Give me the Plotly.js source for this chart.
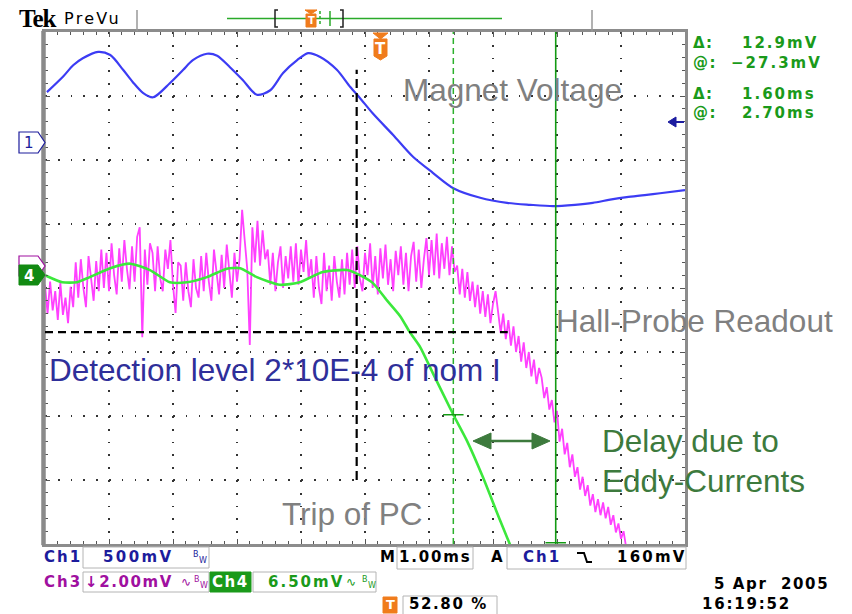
<!DOCTYPE html>
<html><head><meta charset="utf-8">
<script src="https://cdn.plot.ly/plotly-3.0.1.min.js"></script>
<style>html,body{margin:0;padding:0;background:#fff;} #chart{width:852px;height:614px;}</style>
</head><body><div id="chart"></div>
<script>
// ===== data: time in ms relative to trigger, amplitude in screen divisions =====
const CH1_T = [-5.25,-5.00,-4.84,-4.69,-4.45,-4.26,-4.06,-3.91,-3.75,-3.59,-3.33,-3.12,-2.97,-2.75,-2.59,-2.39,-2.19,-1.97,-1.76,-1.56,-1.34,-1.17,-0.98,-0.72,-0.51,-0.36,-0.16,0.16,0.47,0.78,1.10,1.52,1.94,2.30,2.66,3.00,3.28,3.55,3.81,4.09,4.33,4.72];
const CH1_V = [3.06,3.30,3.48,3.59,3.69,3.64,3.41,3.22,3.05,2.98,3.20,3.41,3.56,3.66,3.63,3.45,3.25,3.02,3.09,3.36,3.56,3.67,3.61,3.41,3.14,2.97,2.73,2.39,2.05,1.80,1.56,1.41,1.33,1.30,1.28,1.30,1.33,1.38,1.42,1.45,1.48,1.53];

const CH4_T = [-5.28,-5.01,-4.78,-4.58,-4.26,-3.95,-3.64,-3.33,-3.06,-2.75,-2.44,-2.23,-1.97,-1.61,-1.30,-0.94,-0.56,-0.36,-0.16,0.06,0.27,0.42,0.58,0.78,1.10,1.31,1.56,1.83,1.99];
const CH4_V = [0.20,0.09,0.09,0.17,0.31,0.38,0.28,0.09,0.09,0.17,0.30,0.31,0.17,0.05,0.09,0.25,0.28,0.20,0.08,-0.19,-0.44,-0.69,-0.92,-1.33,-1.98,-2.38,-2.95,-3.63,-4.02];

const CH3_T0 = -5.28, CH3_DT = 0.04;   // sample grid of the Hall-probe trace
const CH3_V = [
 0.05,-0.40,0.10,-0.35,-0.05,-0.50,0.08,-0.42,-0.15,-0.55,0.02,-0.30,
 0.40,-0.15,0.45,0.00,-0.30,0.50,0.15,-0.20,0.42,-0.05,
 0.60,0.00,0.55,-0.05,0.70,0.20,-0.10,0.62,0.10,0.75,0.30,-0.02,
 0.65,0.10,0.80,0.95,-0.77,0.60,0.05,0.70,
 0.55,-0.05,0.65,0.15,-0.05,0.60,0.30,0.75,0.05,-0.39,0.40,
 0.35,-0.20,0.40,-0.05,-0.30,0.45,0.00,-0.15,
 0.50,-0.05,0.55,0.10,-0.20,0.60,0.20,-0.10,0.52,0.00,0.68,0.25,-0.15,0.55,0.10,0.45,
 1.22,0.75,0.30,-0.89,0.95,0.40,1.05,0.35,0.90,0.45,
 0.60,0.05,0.55,-0.05,0.40,0.65,0.00,0.50,0.15,
 0.65,0.10,0.70,0.05,0.60,0.25,0.75,0.15,
 0.45,-0.15,0.50,0.00,-0.25,0.55,-0.05,0.35,-0.20,0.50,0.10,-0.15,0.45,-0.10,0.55,0.05,
 0.60,0.00,0.65,0.15,-0.05,0.55,0.20,0.70,0.00,0.50,-0.10,0.62,0.15,0.68,0.05,0.45,-0.05,0.58,0.20,
 0.65,0.05,0.55,-0.05,0.50,0.72,0.10,0.60,0.00,0.45,0.78,0.20,
 0.75,0.20,0.85,0.15,0.70,0.30,0.80,0.20,0.65,0.25,
 0.35,-0.10,0.30,-0.15,0.25,-0.20,0.10,-0.30,0.05,-0.40,-0.05,-0.45,-0.10,-0.55,-0.25,-0.05,-0.35,-0.70,-0.40,-0.80,-0.50,-0.90,-0.60,-1.00,-0.75,-1.15,-0.85,-1.25,-1.00,-1.38,-1.12,-1.50,-1.25,
 -1.40,-1.72,-1.55,-1.90,-1.75,-2.10,-1.92,-2.40,-2.20,-2.60,-2.42,-2.80,-2.60,-2.95,-2.80,-3.15,-2.95,-3.25,-3.08,-3.40,-3.22,-3.50,-3.30,-3.55,-3.35,-3.60,-3.42,-3.70,-3.55,-3.82,-3.68,-3.92,-3.80,-4.05,-4.20
];
const CH3_T = CH3_V.map((_, i) => +(CH3_T0 + i * CH3_DT).toFixed(3));

const CURSOR_T = [1.10, 2.70];          // time cursors (ms)
const CURSOR_LEVEL = [-1.98, -3.98];     // where the cursors read the waveform (div)
const TRIP_T = -0.41;                    // trip of PC marker (ms)
const TRIP_SPAN = [-3.0, 3.41];
const DETECT_LEVEL = -0.69;              // detection level (div)
const DETECT_END_T = 1.95;
const X_RANGE = [-5.28, 4.72];
const Y_RANGE = [-4, 4];

// ===== helpers for decoration placement (screen frame) =====
const L = 45, R = 685, TOP = 32, BOT = 544;
const px = x => (x - L) / (R - L);
const py = y => (BOT - y) / (BOT - TOP);
const path = (pts, close) => 'M' + pts.map(p => px(p[0]).toFixed(5) + ',' + py(p[1]).toFixed(5)).join('L') + (close ? 'Z' : '');
const ls = (s, n) => `<span style="letter-spacing:${n === undefined ? 2.2 : n}px">${s}</span>`;

const BLUE = '#1c1c9c', MAG = '#a010a0', GRN = '#1a9a1a', ORANGE = '#f07c1c', DKGRN = '#3d7a3d', GRAY = '#808080';
const ann = [];
function txt(x, y, text, color, size, o) {
  o = o || {};
  ann.push({xref: 'paper', yref: 'paper', x: px(x), y: py(y), text: text, showarrow: false,
    xanchor: o.xa || 'left', yanchor: 'middle', borderpad: 0, borderwidth: 0,
    font: {family: o.fam || 'DejaVu Sans', size: size, color: color, weight: o.w || 'normal'}});
}
// status-line text in the scope's display font
const st = (x, y, s, color, sp, size) => txt(x, y, ls(s, sp), color, size || 15, {w: 'bold'});
const shapes = [];
function rect(x0, y0, x1, y1, line, fill, w) {
  shapes.push({type: 'rect', xref: 'paper', yref: 'paper', x0: px(x0), x1: px(x1), y0: py(y0), y1: py(y1),
    line: {color: line, width: w === undefined ? 1 : w}, fillcolor: fill || 'rgba(0,0,0,0)'});
}
function poly(pts, line, fill, w, close) {
  shapes.push({type: 'path', xref: 'paper', yref: 'paper', path: path(pts, close !== false),
    line: {color: line, width: w === undefined ? 1 : w}, fillcolor: fill || 'rgba(0,0,0,0)'});
}
function seg(x0, y0, x1, y1, color, w, dash) {
  shapes.push({type: 'line', xref: 'paper', yref: 'paper', x0: px(x0), x1: px(x1), y0: py(y0), y1: py(y1),
    line: {color: color, width: w, dash: dash || 'solid'}});
}
function bw(x, y, color) { txt(x, y - 3, 'B', color, 8); txt(x + 6, y + 3, 'W', color, 8); }

// ===== graticule left edge band =====
rect(41.5, 31, 45.5, 545, '#8a8a8a', '#8a8a8a', 0.5);

// ===== data-anchored cursor / level shapes =====
shapes.push({type: 'line', xref: 'x', yref: 'paper', x0: CURSOR_T[0], x1: CURSOR_T[0], y0: 0, y1: 1, line: {color: '#2cb02c', width: 1.5, dash: '6px,4px'}});
shapes.push({type: 'line', xref: 'x', yref: 'paper', x0: CURSOR_T[1], x1: CURSOR_T[1], y0: 0, y1: 1, line: {color: '#139a13', width: 1.6}});
CURSOR_T.forEach((t, i) => shapes.push({type: 'line', xref: 'x', yref: 'y', x0: t - 0.16, x1: t + 0.16, y0: CURSOR_LEVEL[i], y1: CURSOR_LEVEL[i], line: {color: '#139a13', width: 1.5}}));
shapes.push({type: 'line', xref: 'x', yref: 'y', x0: X_RANGE[0], x1: DETECT_END_T, y0: DETECT_LEVEL, y1: DETECT_LEVEL, line: {color: '#000', width: 2.2, dash: '8px,5px'}});
shapes.push({type: 'line', xref: 'x', yref: 'y', x0: TRIP_T, x1: TRIP_T, y0: TRIP_SPAN[0], y1: TRIP_SPAN[1], line: {color: '#000', width: 2.2, dash: '9px,5px'}});

// ===== double arrow (delay) =====
seg(488, 441, 536, 441, DKGRN, 2.5);
poly([[473, 441], [491, 433], [491, 449]], DKGRN, DKGRN, 1);
poly([[550, 441], [532, 433], [532, 449]], DKGRN, DKGRN, 1);

// ===== callout texts =====
const CALL = 'Liberation Sans';
txt(512, 90, 'Magnet Voltage', GRAY, 31.5, {xa: 'center', fam: CALL});
txt(556, 321, 'Hall-Probe Readout', GRAY, 31.5, {fam: CALL});
txt(49, 370, 'Detection level 2*10E-4 of nom I', '#2f2f9a', 31.5, {fam: CALL});
txt(282, 514, 'Trip of PC', GRAY, 31.5, {fam: CALL});
txt(602, 441, 'Delay due to', DKGRN, 31.5, {fam: CALL});
txt(602, 481, 'Eddy-Currents', DKGRN, 31.5, {fam: CALL});

// ===== cursor readouts =====
st(693, 43, 'Δ:', GRN, 1.5); st(742, 43, '12.9mV', GRN, 2);
st(693, 63, '@:', GRN, 1.5); st(731, 63, '−27.3mV', GRN, 2);
st(693, 94, 'Δ:', GRN, 1.5); st(742, 94, '1.60ms', GRN, 2);
st(693, 113, '@:', GRN, 1.5); st(742, 113, '2.70ms', GRN, 2);

// ===== top status bar =====
txt(19, 18, ls('Tek', -1), '#000', 25, {fam: 'Liberation Serif', w: 'bold'});
txt(64, 18.5, ls('PreVu', 2.3), '#000', 16);
seg(137, 10, 137, 31, '#999', 1.5);
seg(592, 10, 592, 32, '#999', 1.5);
seg(227, 18.5, 502, 18.5, '#2aaa2a', 1.5);
poly([[278, 10], [275, 10], [275, 27], [278, 27]], '#222', null, 1.5, false);
poly([[340, 10], [343, 10], [343, 27], [340, 27]], '#222', null, 1.5, false);
seg(320, 11, 320, 26, '#2aaa2a', 1.5, '3px,2px');
seg(330, 11, 330, 26, '#2aaa2a', 1.5);
poly([[305, 10], [317, 10], [311, 14]], ORANGE, ORANGE, 1);
rect(306, 14, 316, 27, ORANGE, ORANGE, 1);
txt(311, 20.5, '<b>T</b>', '#fff', 10, {xa: 'center'});

// ===== trigger position marker on graticule =====
poly([[373, 33], [388, 33], [380.5, 39]], ORANGE, ORANGE, 1);
poly([[374, 39], [387, 39], [387, 56], [380.5, 60], [374, 56]], ORANGE, ORANGE, 1);
txt(380.5, 48.5, '<b>T</b>', '#fff', 15, {xa: 'center'});

// ===== trigger level arrow (right edge) =====
poly([[668, 122], [676, 117], [676, 127]], '#1c1ca0', '#1c1ca0', 1);
seg(675, 122, 684, 122, '#1c1ca0', 2);

// ===== channel ground markers (left edge) =====
poly([[19, 132], [38, 132], [45, 142.5], [38, 153], [19, 153]], BLUE, '#fff', 1.2);
txt(29, 143, '1', BLUE, 15, {xa: 'center'});
poly([[19, 256], [38, 256], [45, 266], [38, 276], [19, 276]], MAG, '#fff', 1.2);
poly([[19, 265], [38, 265], [45, 275], [38, 285], [19, 285]], '#128a12', '#128a12', 1);
txt(29, 275.5, '<b>4</b>', '#fff', 15, {xa: 'center'});

// ===== bottom status area =====
st(44, 557, 'Ch1', BLUE, 2);
rect(83, 547, 209, 568, '#b4b4b4', null, 1);
st(103, 557, '500mV', BLUE, 2.4); bw(193, 557, BLUE);
st(380, 557, 'M', '#000', 0);
rect(397, 547, 473, 569, '#b4b4b4', null, 1);
st(399, 557, '1.00ms', '#000', 1.8);
st(491, 557, 'A', '#000', 0);
rect(507, 547, 686, 569, '#b4b4b4', null, 1);
st(523, 557, 'Ch1', BLUE, 2);
poly([[577, 553], [584, 553], [587, 562], [592, 562]], '#000', null, 2, false);
st(617, 557, '160mV', '#000', 2.2);

st(44, 582, 'Ch3', MAG, 2);
rect(83, 572, 209, 592, '#b4b4b4', null, 1);
st(85, 582, '↓2.00mV', MAG, 1.6);
txt(181, 582, '∿', MAG, 12); bw(194, 582, MAG);
rect(210, 572, 251, 592, GRN, GRN, 1);
st(212, 582, 'Ch4', '#fff', 1.5);
rect(253, 572, 376, 592, '#b4b4b4', null, 1);
st(268, 582, '6.50mV', GRN, 2);
txt(346, 582, '∿', GRN, 12); bw(362, 582, GRN);

rect(383, 597, 397, 613, ORANGE, ORANGE, 1);
txt(390, 604.5, '<b>T</b>', '#fff', 13, {xa: 'center'});
rect(403, 596, 497, 615, '#b4b4b4', null, 1);
st(409, 604, '52.80 %', '#000', 1.6);
st(714, 584, '5 Apr  2005', '#000', 1.6);
st(702, 604, '16:19:52', '#000', 1.8);

// ===== traces =====
const traces = [
  {x: CH1_T, y: CH1_V, type: 'scatter', mode: 'lines', line: {color: '#3c3cf4', width: 2.2, shape: 'spline', smoothing: 0.8}, hoverinfo: 'skip', name: 'Ch1'},
  {x: CH3_T, y: CH3_V, type: 'scatter', mode: 'lines', line: {color: '#ff40ff', width: 1.8}, hoverinfo: 'skip', name: 'Ch3'},
  {x: CH4_T, y: CH4_V, type: 'scatter', mode: 'lines', line: {color: '#3ce83c', width: 2.6, shape: 'spline', smoothing: 0.6}, hoverinfo: 'skip', name: 'Ch4'}
];

const axisCommon = {
  showticklabels: false, ticks: 'inside', ticklen: 5, tickwidth: 1, tickcolor: '#555',
  showgrid: true, gridcolor: '#333', gridwidth: 1.7, griddash: '1.7px,11.1px',
  zeroline: false, showline: true, linecolor: '#8c8c8c', linewidth: 3, mirror: 'allticks', fixedrange: true
};
const layout = {
  width: 852, height: 614, margin: {l: 45, r: 167, t: 32, b: 70},
  paper_bgcolor: '#fff', plot_bgcolor: '#fff', showlegend: false,
  xaxis: Object.assign({}, axisCommon, {range: X_RANGE, tick0: X_RANGE[0], dtick: 1,
    minor: {tick0: X_RANGE[0], dtick: 0.2, ticks: 'inside', ticklen: 3, tickcolor: '#555', showgrid: false}}),
  yaxis: Object.assign({}, axisCommon, {range: Y_RANGE, tick0: 0, dtick: 1,
    minor: {tick0: 0, dtick: 0.2, ticks: 'inside', ticklen: 3, tickcolor: '#555', showgrid: false}}),
  shapes: shapes, annotations: ann
};
Plotly.newPlot('chart', traces, layout, {staticPlot: true, displayModeBar: false});
</script></body></html>
